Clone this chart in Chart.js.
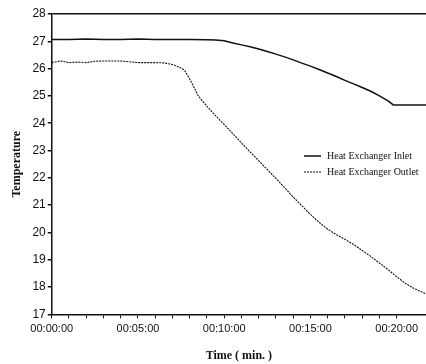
<!DOCTYPE html>
<html>
<head>
<meta charset="utf-8">
<script src="https://cdn.jsdelivr.net/npm/chart.js@4.4.0/dist/chart.umd.min.js"></script>
<style>
  html, body { margin: 0; padding: 0; background: #fff; }
  #wrap { width: 426px; height: 364px; position: relative; }
</style>
</head>
<body>
<div id="wrap"><canvas id="tempChart"></canvas></div>
<script>
// time in minutes, temperature readings
const inletTimes = [0, 1, 2, 3, 4, 5, 6, 7, 8, 9, 9.5, 10, 10.5, 11, 11.5, 12, 12.5, 13, 13.5, 14, 14.5, 15, 15.5, 16, 16.5, 17, 17.5, 18, 18.5, 19, 19.5, 19.8, 20.5, 21, 21.7];
const inletTemps = [27.07, 27.07, 27.08, 27.07, 27.07, 27.08, 27.07, 27.07, 27.07, 27.06, 27.05, 27.02, 26.94, 26.87, 26.8, 26.72, 26.63, 26.53, 26.43, 26.32, 26.2, 26.09, 25.97, 25.84, 25.71, 25.57, 25.44, 25.31, 25.17, 25.0, 24.82, 24.67, 24.67, 24.67, 24.67];

const outletTimes = [0, 0.5, 1, 1.5, 2, 2.5, 3, 3.5, 4, 4.5, 5, 5.5, 6, 6.5, 7, 7.4, 7.7, 8.1, 8.5, 9, 9.3, 10, 10.5, 11, 11.5, 12, 12.5, 13, 13.5, 14, 14.5, 15, 15.5, 16, 16.5, 17, 17.5, 18, 18.5, 19, 19.5, 20, 20.5, 21, 21.7];
const outletTemps = [26.22, 26.28, 26.22, 26.24, 26.22, 26.27, 26.28, 26.28, 26.28, 26.25, 26.22, 26.22, 26.22, 26.21, 26.15, 26.05, 25.94, 25.5, 25.0, 24.62, 24.41, 23.95, 23.62, 23.28, 22.95, 22.63, 22.3, 21.98, 21.64, 21.3, 20.98, 20.66, 20.37, 20.12, 19.92, 19.75, 19.56, 19.34, 19.12, 18.88, 18.64, 18.38, 18.14, 17.95, 17.75];

const seriesLabels = ['Heat Exchanger Inlet', 'Heat Exchanger Outlet'];
const yMin = 17, yMax = 28, xMax = 21.7;

function toPoints(xs, ys) {
    return xs.map(function(x, i) { return {x: x, y: ys[i]}; });
}

function fmtTime(m) {
    const mm = String(m).padStart(2, '0');
    return '00:' + mm + ':00';
}

// legend drawn inside the plot area, like the original
const insideLegend = {
    id: 'insideLegend',
    afterDraw(chart) {
        const ctx = chart.ctx;
        ctx.save();
        ctx.font = '10px "Liberation Serif", "Times New Roman", serif';
        ctx.fillStyle = '#111';
        ctx.textBaseline = 'middle';
        chart.data.datasets.forEach(function(ds, i) {
            const y = 156 + i * 16;
            ctx.beginPath();
            ctx.strokeStyle = '#111';
            ctx.lineWidth = ds.borderWidth;
            ctx.setLineDash(ds.borderDash || []);
            ctx.moveTo(304, y);
            ctx.lineTo(321, y);
            ctx.stroke();
            ctx.setLineDash([]);
            ctx.fillText(ds.label, 327, y);
        });
        ctx.restore();
    }
};

const ctx = document.getElementById('tempChart').getContext('2d');
new Chart(ctx, {
    type: 'line',
    data: {
        datasets: [
            {
                label: seriesLabels[0],
                data: toPoints(inletTimes, inletTemps),
                borderColor: '#111',
                borderWidth: 1.5,
                pointRadius: 0,
                tension: 0
            },
            {
                label: seriesLabels[1],
                data: toPoints(outletTimes, outletTemps),
                borderColor: '#111',
                borderWidth: 1.1,
                borderDash: [2, 1],
                pointRadius: 0,
                tension: 0
            }
        ]
    },
    options: {
        responsive: true,
        maintainAspectRatio: false,
        animation: false,
        layout: { padding: { top: 14, right: 0, left: 10, bottom: 1 } },
        plugins: {
            legend: { display: false },
            tooltip: { enabled: false }
        },
        scales: {
            x: {
                type: 'linear',
                min: 0,
                max: xMax,
                // the plot runs right up to the edge of the picture
                afterFit: function(scale) { scale.paddingRight = 0; },
                border: { color: '#111', width: 1.5 },
                grid: { drawOnChartArea: false, tickLength: 4, color: '#111' },
                ticks: {
                    stepSize: 1,
                    autoSkip: false,
                    maxRotation: 0,
                    color: '#111',
                    padding: 4,
                    font: { family: '"Liberation Sans", Arial, sans-serif', size: 11 },
                    callback: function(v) { return v % 5 === 0 ? fmtTime(v) : ''; }
                },
                title: {
                    display: true,
                    text: 'Time ( min. )',
                    color: '#111',
                    padding: { top: 9, bottom: 0 },
                    font: { family: '"Liberation Serif", "Times New Roman", serif', size: 12, weight: 'bold' }
                }
            },
            y: {
                min: yMin,
                max: yMax,
                border: { color: '#111', width: 1.5 },
                grid: {
                    tickLength: 4,
                    color: function(c) { return c.tick && c.tick.value === yMax ? '#111' : 'rgba(0,0,0,0)'; },
                    tickColor: '#111',
                    lineWidth: 1.5
                },
                ticks: {
                    stepSize: 1,
                    color: '#111',
                    padding: 2,
                    font: { family: '"Liberation Sans", Arial, sans-serif', size: 12 }
                },
                title: {
                    display: true,
                    text: 'Temperature',
                    color: '#111',
                    padding: { top: 0, bottom: 6 },
                    font: { family: '"Liberation Serif", "Times New Roman", serif', size: 12, weight: 'bold' }
                }
            }
        }
    },
    plugins: [insideLegend]
});
</script>
</body>
</html>
